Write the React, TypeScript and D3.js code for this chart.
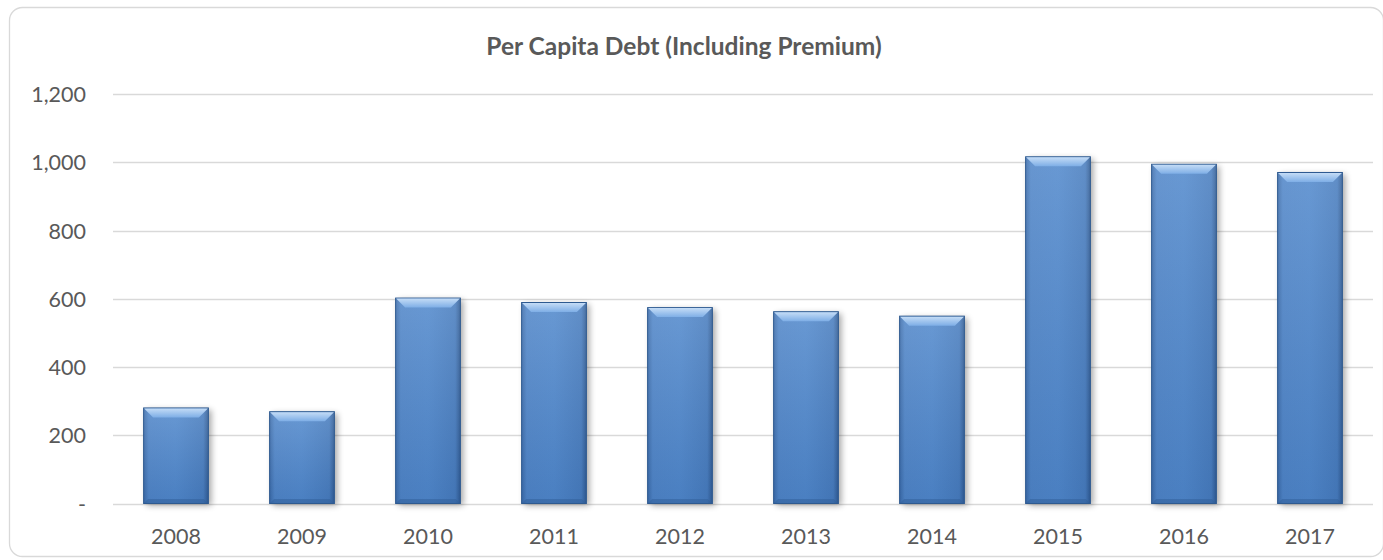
import React, { useEffect, useRef } from "react";
import * as d3 from "d3";

const years = ["2008", "2009", "2010", "2011", "2012", "2013", "2014", "2015", "2016", "2017"];
const debt = [280, 269, 602, 589, 574, 562, 549, 1016, 994, 970];
const yTicks = [0, 200, 400, 600, 800, 1000, 1200];
const title = "Per Capita Debt (Including Premium)";

const W = 1383;
const H = 560;
const FONT = "Lato, 'Open Sans', sans-serif";

export default function App() {
  const svgRef = useRef<SVGSVGElement>(null);

  useEffect(() => {
    const svg = d3.select(svgRef.current);
    svg.selectAll("*").remove();

    const margin = { top: 94, right: 10, bottom: 56.5, left: 113 };
    const plotRight = 1373;

    const x = d3.scaleBand()
      .domain(years)
      .range([margin.left, plotRight])
      .paddingInner(0.486)
      .paddingOuter(0.243);

    const y = d3.scaleLinear()
      .domain([0, 1200])
      .range([H - margin.bottom, margin.top]);

    const defs = svg.append("defs");

    // horizontal shading of bar body
    const body = defs.append("linearGradient").attr("id", "barBody").attr("x1", 0).attr("x2", 1).attr("y1", 0).attr("y2", 0);
    body.append("stop").attr("offset", "0%").attr("stop-color", "#3a6aa8");
    body.append("stop").attr("offset", "8%").attr("stop-color", "#4f85c8");
    body.append("stop").attr("offset", "50%").attr("stop-color", "#5088cc");
    body.append("stop").attr("offset", "92%").attr("stop-color", "#477cbe");
    body.append("stop").attr("offset", "100%").attr("stop-color", "#2f5a92");

    const vert = defs.append("linearGradient").attr("id", "barVert").attr("x1", 0).attr("x2", 0).attr("y1", 0).attr("y2", 1);
    vert.append("stop").attr("offset", "0%").attr("stop-color", "#ffffff").attr("stop-opacity", 0.14);
    vert.append("stop").attr("offset", "100%").attr("stop-color", "#1d3f73").attr("stop-opacity", 0.12);

    const bevel = defs.append("linearGradient").attr("id", "barBevel").attr("x1", 0).attr("x2", 0).attr("y1", 0).attr("y2", 1);
    bevel.append("stop").attr("offset", "0%").attr("stop-color", "#c4dcf6");
    bevel.append("stop").attr("offset", "100%").attr("stop-color", "#7eaee6");

    const blur = defs.append("filter").attr("id", "shadow").attr("x", "-30%").attr("y", "-10%").attr("width", "160%").attr("height", "120%");
    blur.append("feGaussianBlur").attr("stdDeviation", 3);

    // frame
    svg.append("rect")
      .attr("x", 9.5).attr("y", 7.5)
      .attr("width", W - 9).attr("height", H - 11)
      .attr("rx", 13)
      .attr("fill", "#ffffff")
      .attr("stroke", "#d9d9d9")
      .attr("stroke-width", 1.3);

    // title
    svg.append("text")
      .attr("x", 684)
      .attr("y", 55)
      .attr("text-anchor", "middle")
      .attr("font-family", FONT)
      .attr("font-size", 24.5)
      .attr("font-weight", "bold")
      .attr("fill", "#595959")
      .text(title);

    // gridlines
    svg.append("g")
      .selectAll("line")
      .data(yTicks)
      .join("line")
      .attr("x1", margin.left)
      .attr("x2", plotRight)
      .attr("y1", d => Math.round(y(d)) + 0.5)
      .attr("y2", d => Math.round(y(d)) + 0.5)
      .attr("stroke", "#d9d9d9")
      .attr("stroke-width", 1.5);

    // y labels
    const fmt = d3.format(",");
    svg.append("g")
      .selectAll("text")
      .data(yTicks)
      .join("text")
      .attr("x", 86)
      .attr("y", d => y(d) + 8)
      .attr("text-anchor", "end")
      .attr("font-family", FONT)
      .attr("font-size", 21.5)
      .attr("fill", "#595959")
      .text(d => (d === 0 ? "-" : fmt(d)));

    // x labels
    svg.append("g")
      .selectAll("text")
      .data(years)
      .join("text")
      .attr("x", d => x(d)! + x.bandwidth() / 2)
      .attr("y", 544)
      .attr("text-anchor", "middle")
      .attr("font-family", FONT)
      .attr("font-size", 21.5)
      .attr("fill", "#595959")
      .text(d => d);

    const bars = svg.append("g")
      .selectAll("g")
      .data(years.map((yr, i) => ({ yr, v: debt[i] })))
      .join("g");

    const bw = x.bandwidth();

    // shadow
    bars.append("rect")
      .attr("x", d => x(d.yr)! + 3)
      .attr("y", d => y(d.v) + 2)
      .attr("width", bw)
      .attr("height", d => y(0) - y(d.v))
      .attr("fill", "#000")
      .attr("opacity", 0.35)
      .attr("filter", "url(#shadow)");

    bars.append("rect")
      .attr("x", d => x(d.yr)!)
      .attr("y", d => y(d.v))
      .attr("width", bw)
      .attr("height", d => y(0) - y(d.v))
      .attr("fill", "url(#barBody)");

    bars.append("rect")
      .attr("x", d => x(d.yr)!)
      .attr("y", d => y(d.v))
      .attr("width", bw)
      .attr("height", d => y(0) - y(d.v))
      .attr("fill", "url(#barVert)")
      .attr("stroke", "#2e5a90")
      .attr("stroke-width", 1);

    // top bevel
    const bev = 9;
    bars.append("path")
      .attr("d", d => {
        const x0 = x(d.yr)! + 0.5;
        const x1 = x0 + bw - 1;
        const y0 = y(d.v) + 0.5;
        return `M${x0},${y0}L${x1},${y0}L${x1 - bev},${y0 + bev}L${x0 + bev},${y0 + bev}Z`;
      })
      .attr("fill", "url(#barBevel)");

    // bottom subtle darker band
    bars.append("path")
      .attr("d", d => {
        const x0 = x(d.yr)! + 0.5;
        const x1 = x0 + bw - 1;
        const yb = y(0) - 0.5;
        return `M${x0},${yb}L${x1},${yb}L${x1 - 4},${yb - 4}L${x0 + 4},${yb - 4}Z`;
      })
      .attr("fill", "#2f5d98")
      .attr("opacity", 0.5);
  }, []);

  return (
    <div style={{ position: "absolute", left: 0, top: 0, width: W, height: H }}>
      <svg ref={svgRef} width={W} height={H} style={{ display: "block" }} />
    </div>
  );
}
